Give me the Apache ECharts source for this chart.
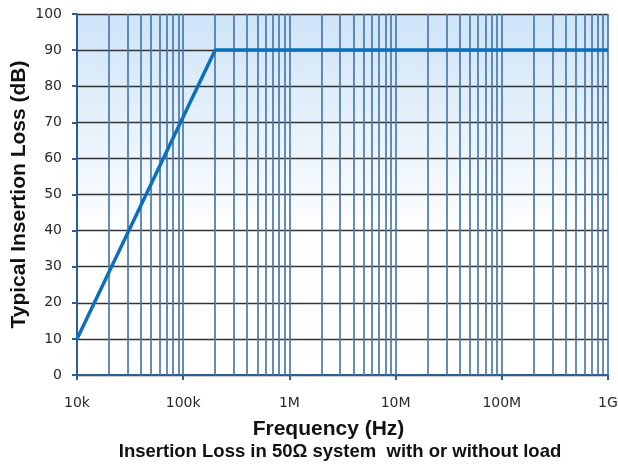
<!DOCTYPE html>
<html>
<head>
<meta charset="utf-8">
<script src="https://cdn.jsdelivr.net/npm/echarts@6/dist/echarts.min.js"></script>
<style>html,body{margin:0;padding:0;background:#fff}#c{width:618px;height:464px}</style>
</head>
<body>
<div id="c"></div>
<script>
// Data
var freqHz = [10000, 200000, 1000000000];
var lossDb = [10, 90, 90];
var xTickValues = [1e4, 1e5, 1e6, 1e7, 1e8, 1e9];
var xTickLabels = ['10k', '100k', '1M', '10M', '100M', '1G'];
var yTickLabels = ['0','10','20','30','40','50','60','70','80','90','100'];
var gridFreqs = [];
[1e4, 1e5, 1e6, 1e7, 1e8].forEach(function (d) {
  [2,3,4,5,6,7,8,9,10].forEach(function (m) { gridFreqs.push(d * m); });
});

var titleFont = 'Liberation Sans';
var tickFont = 'DejaVu Sans';
var chart = echarts.init(document.getElementById('c'));
chart.setOption({
  animation: false,
  backgroundColor: '#ffffff',
  grid: {
    left: 77, right: 10, top: 14, bottom: 89,
    containLabel: false, outerBoundsMode: 'none',
    show: true, borderWidth: 0,
    backgroundColor: new echarts.graphic.LinearGradient(0, 0, 0, 1, [
      { offset: 0, color: '#cde4f8' },
      { offset: 0.62, color: '#ffffff' },
      { offset: 1, color: '#ffffff' }
    ])
  },
  xAxis: {
    type: 'log', logBase: 10, min: 1e4, max: 1e9,
    name: 'Frequency (Hz)', nameLocation: 'middle', nameGap: 44, nameMoveOverlap: false,
    nameTextStyle: { fontFamily: titleFont, fontWeight: 'bold', fontSize: 21, color: '#111', padding: [0, 28, 0, 0] },
    axisLine: { show: true, lineStyle: { color: '#2d5d97', width: 2 } },
    axisTick: { show: true, length: 5, lineStyle: { color: '#2d5d97', width: 2 } },
    axisLabel: {
      margin: 21, fontFamily: tickFont, fontSize: 14, color: '#2a2a2a',
      formatter: function (v) {
        for (var i = 0; i < xTickValues.length; i++) {
          if (Math.abs(v - xTickValues[i]) / xTickValues[i] < 1e-6) return xTickLabels[i];
        }
        return '';
      }
    },
    splitLine: { show: false }
  },
  yAxis: {
    type: 'value', min: 0, max: 100, interval: 10,
    name: 'Typical Insertion Loss (dB)', nameLocation: 'middle', nameGap: 47, nameMoveOverlap: false,
    nameTextStyle: { fontFamily: titleFont, fontWeight: 'bold', fontSize: 21, color: '#111' },
    axisLine: { show: true, lineStyle: { color: '#2d5d97', width: 2 } },
    axisTick: { show: true, length: 5, lineStyle: { color: '#2d5d97', width: 2 } },
    axisLabel: {
      margin: 15, fontFamily: tickFont, fontSize: 14, color: '#2a2a2a',
      formatter: function (v) { return yTickLabels[Math.round(v / 10)]; }
    },
    splitLine: { show: true, lineStyle: { color: '#333333', width: 1.3 } }
  },
  graphic: [{
    type: 'text', x: 340, y: 452,
    style: {
      text: 'Insertion Loss in 50\u03A9 system  with or without load',
      fontFamily: titleFont, fontWeight: 'bold', fontSize: 18.5, fill: '#111',
      align: 'center', verticalAlign: 'middle'
    }
  }],
  series: [
    {
      type: 'line', data: freqHz.map(function (f, i) { return [f, lossDb[i]]; }),
      showSymbol: false, symbol: 'none', z: 1, silent: true,
      lineStyle: { opacity: 0 },
      markLine: {
        silent: true, symbol: 'none', label: { show: false },
        lineStyle: { type: 'solid', color: '#4c79aa', width: 1.7 },
        data: gridFreqs.map(function (f) { return { xAxis: f }; })
      }
    },
    {
      type: 'line', data: freqHz.map(function (f, i) { return [f, lossDb[i]]; }),
      showSymbol: false, symbol: 'none', z: 5,
      lineStyle: { color: '#0a6fbf', width: 3.5 }
    }
  ]
});
</script>
</body>
</html>
